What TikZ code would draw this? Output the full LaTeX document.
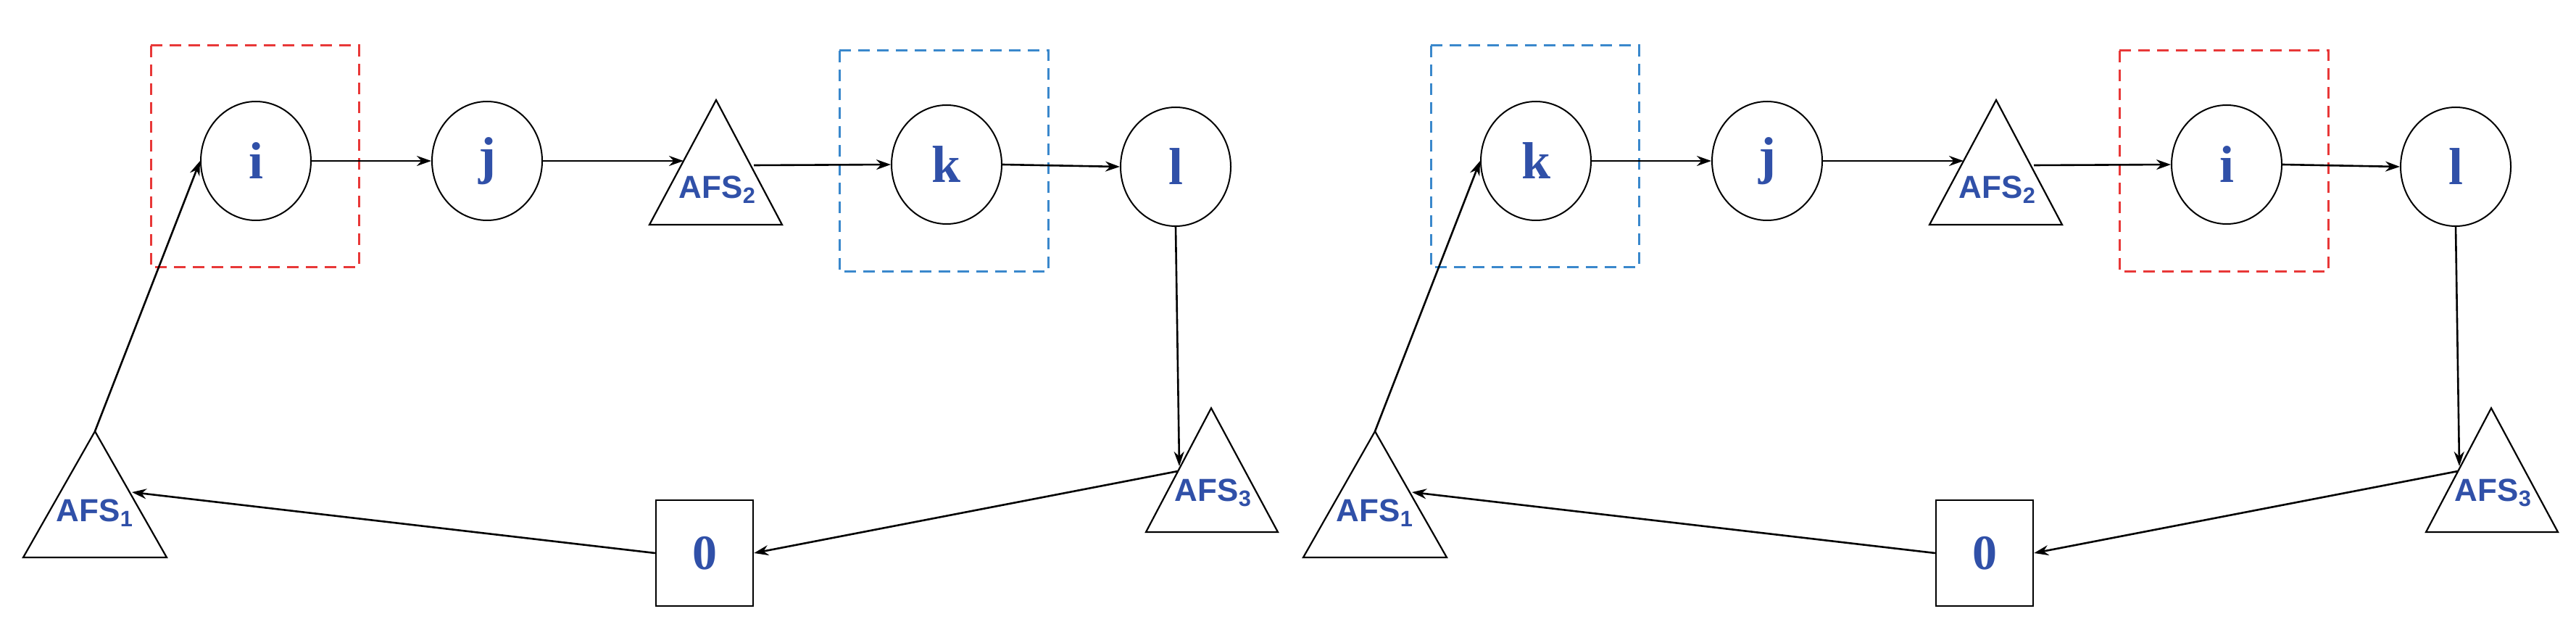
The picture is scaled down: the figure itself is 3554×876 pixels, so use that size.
\documentclass[tikz,border=0pt]{standalone}
\usepackage{fontspec}
\setmainfont{Liberation Serif}
\newfontfamily\afsfont{Liberation Sans}
\usetikzlibrary{arrows.meta,calc}
\definecolor{txtblue}{HTML}{3050A8}
\definecolor{boxred}{HTML}{E83838}
\definecolor{boxblue}{HTML}{3A88CC}
\tikzset{
  cust/.style={draw,ellipse,minimum width=76pt,minimum height=82pt,line width=1pt,font=\bfseries\fontsize{36}{36}\selectfont,text=txtblue,inner sep=0pt},
  depot/.style={draw,rectangle,minimum width=67pt,minimum height=73pt,line width=1.2pt,font=\bfseries\fontsize{34}{34}\selectfont,text=txtblue,inner sep=0pt},
  afs/.style={font=\afsfont\bfseries\fontsize{22}{22}\selectfont,text=txtblue,inner sep=0pt},
  tri/.style={line width=1.1pt},
  con/.style={line width=1.3pt,-{Stealth[length=10pt,width=7pt]}},
  dbox/.style={dashed,dash pattern=on 8pt off 5pt,line width=1.5pt},
}
\usepackage{tikz}
\usetikzlibrary{shapes.geometric}
\newcommand{\mkhalf}[6]{%
\begin{scope}[xshift=#2]
 \node[cust] (#1a) at (353,222) {#3};
 \node[cust] (#1j) at (672,222) {j};
 \node[cust] (#1b) at (1306,227) {#4};
 \node[cust] (#1l) at (1622,230) {l};
 \node[depot] (#1o) at (972,763) {0};
 % triangles
 \coordinate (#1t2a) at (988,138); \coordinate (#1t2l) at (896,310); \coordinate (#1t2r) at (1079,310);
 \draw[tri] (#1t2a)--(#1t2l)--(#1t2r)--cycle;
 \node[afs] (#1f2) at (990,262) {AFS\textsubscript{2}};
 \coordinate (#1t1a) at (131,595); \coordinate (#1t1l) at (32,769); \coordinate (#1t1r) at (230,769);
 \draw[tri] (#1t1a)--(#1t1l)--(#1t1r)--cycle;
 \node[afs] (#1f1) at (131,708) {AFS\textsubscript{1}};
 \coordinate (#1t3a) at (1671,563); \coordinate (#1t3l) at (1581,734); \coordinate (#1t3r) at (1763,734);
 \draw[tri] (#1t3a)--(#1t3l)--(#1t3r)--cycle;
 \node[afs] (#1f3) at (1674,680) {AFS\textsubscript{3}};
 \coordinate (#1in2) at (943,222); \coordinate (#1out2) at (1040,228);
 \coordinate (#1in3) at (1627,643); \coordinate (#1out3) at (1625,650);
 \coordinate (#1in1) at (182,679);
 % boxes
 \draw[dbox,#5] (208,63) rectangle (495,369);
 \draw[dbox,#6] (1158,70) rectangle (1446,375);
 % connectors
 \draw[con] (#1a.east) -- (#1j.west);
 \draw[con] (#1j.east) -- (#1in2);
 \draw[con] (#1out2) -- (#1b.west);
 \draw[con] (#1b.east) -- (#1l.west);
 \draw[con] (#1l.south) -- (#1in3);
 \draw[con] (#1out3) -- (#1o.east);
 \draw[con] (#1o.west) -- (#1in1);
 \draw[con] (#1t1a) -- (#1a.west);
\end{scope}}
\begin{document}
\begin{tikzpicture}[x=0.5pt,y=-0.5pt]
\useasboundingbox (0,0) rectangle (3554,876);
\mkhalf{L}{0}{i}{k}{boxred}{boxblue}
\mkhalf{R}{883pt}{k}{i}{boxblue}{boxred}
\end{tikzpicture}
\end{document}
